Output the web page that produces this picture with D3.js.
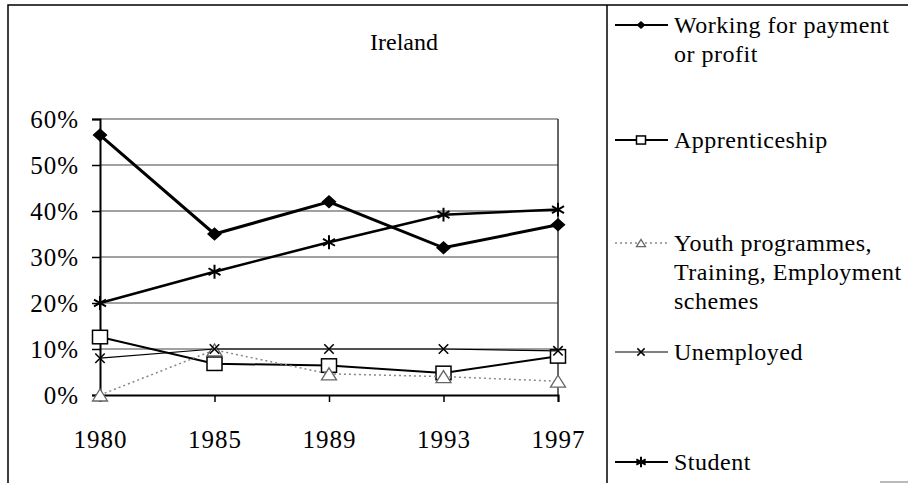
<!DOCTYPE html>
<html>
<head>
<meta charset="utf-8">
<script src="https://cdn.jsdelivr.net/npm/d3@7/dist/d3.min.js"></script>
<style>
  body { margin: 0; background: #fff; }
  text { font-family: "Liberation Serif", "Times New Roman", serif; fill: #000; }
</style>
</head>
<body>
<div id="chart"></div>
<script>
// data (percent)
var years = ['1980', '1985', '1989', '1993', '1997'];
var working = [56.5, 35, 42, 32, 37];
var apprentice = [12.6, 6.8, 6.4, 4.8, 8.4];
var youth = [0, 9.8, 4.6, 4, 3];
var unemployed = [8, 10, 10, 10, 9.6];
var student = [20, 26.8, 33.2, 39.2, 40.3];
var yTicks = [0, 10, 20, 30, 40, 50, 60];
var seriesNames = ['Working for payment\nor profit', 'Apprenticeship',
  'Youth programmes,\nTraining, Employment\nschemes', 'Unemployed', 'Student'];

const width = 908, height = 483;
const margin = {top: 119, right: 350, bottom: 88, left: 100};

const svg = d3.select('#chart').append('svg')
  .attr('width', width).attr('height', height);

var x = d3.scalePoint()
  .domain(years)
  .range([margin.left, width - margin.right]);

var y = d3.scaleLinear()
  .domain([0, 60])
  .range([height - margin.bottom, margin.top]);

// outer frame
svg.append('path').attr('d', 'M8,483 V5 H908').attr('fill', 'none').attr('stroke', '#000').attr('stroke-width', 1.5);
svg.append('line').attr('x1', 607).attr('x2', 607).attr('y1', 5).attr('y2', 483).attr('stroke', '#000').attr('stroke-width', 1.5);
svg.append('line').attr('x1', 880).attr('x2', 908).attr('y1', 482).attr('y2', 482).attr('stroke', '#777');

// gridlines
svg.append('g').selectAll('line').data(yTicks.slice(1)).enter().append('line')
  .attr('x1', margin.left).attr('x2', width - margin.right)
  .attr('y1', d => y(d)).attr('y2', d => y(d))
  .attr('stroke', '#444').attr('stroke-width', 1.2);

// plot frame right side
svg.append('line').attr('x1', width - margin.right).attr('x2', width - margin.right)
  .attr('y1', margin.top).attr('y2', height - margin.bottom).attr('stroke', '#333').attr('stroke-width', 1.5);

// axes
var yAxis = svg.append('g')
  .attr('transform', `translate(${margin.left},0)`)
  .call(d3.axisLeft(y).tickValues(yTicks).tickFormat(d => d + '%').tickSize(8).tickPadding(13));
var xAxis = svg.append('g')
  .attr('transform', `translate(0,${height - margin.bottom})`)
  .call(d3.axisBottom(x).tickSize(7).tickPadding(28));
[yAxis, xAxis].forEach(function(a) {
  a.select('.domain').attr('stroke', '#000').attr('stroke-width', 2);
  a.selectAll('.tick line').attr('stroke', '#000').attr('stroke-width', 1.5);
  a.selectAll('text').attr('font-size', 25).attr('letter-spacing', 1)
    .attr('font-family', '"Liberation Serif", serif');
});

// title
svg.append('text').attr('x', 404).attr('y', 50).attr('text-anchor', 'middle')
  .attr('font-size', 24).text('Ireland');

var styles = [
  {data: working, sw: 3, color: '#000', dash: null, marker: 'diamond'},
  {data: apprentice, sw: 2, color: '#000', dash: null, marker: 'square'},
  {data: youth, sw: 1.5, color: '#888', dash: '2,3', marker: 'triangle'},
  {data: unemployed, sw: 1.2, color: '#000', dash: null, marker: 'cross'},
  {data: student, sw: 2.5, color: '#000', dash: null, marker: 'star'}
];

function drawMarker(g, type, cx, cy, s) {
  var h = s / 2;
  if (type === 'diamond') {
    g.append('path').attr('d', `M${cx - h},${cy} L${cx},${cy - h * 0.9} L${cx + h},${cy} L${cx},${cy + h * 0.9} Z`)
      .attr('fill', '#000');
  } else if (type === 'square') {
    g.append('rect').attr('x', cx - h).attr('y', cy - h * 0.9).attr('width', s).attr('height', s * 0.9)
      .attr('fill', '#fff').attr('stroke', '#000').attr('stroke-width', 1.5);
  } else if (type === 'triangle') {
    g.append('path').attr('d', `M${cx - h},${cy + h * 0.8} L${cx},${cy - h * 0.8} L${cx + h},${cy + h * 0.8} Z`)
      .attr('fill', '#fff').attr('stroke', '#666').attr('stroke-width', 1.3);
  } else if (type === 'cross') {
    g.append('path').attr('d', d3.symbol(d3.symbolX, s * 4)())
      .attr('transform', `translate(${cx},${cy})`).attr('fill', 'none').attr('stroke', '#000').attr('stroke-width', 1.5);
  } else if (type === 'star') {
    g.append('path').attr('d', d3.symbol(d3.symbolAsterisk, s * 9)())
      .attr('transform', `translate(${cx},${cy})`).attr('fill', 'none').attr('stroke', '#000').attr('stroke-width', 2);
  }
}

var line = d3.line().x((d, i) => x(years[i])).y(d => y(d));

styles.forEach(function(st) {
  var g = svg.append('g');
  g.append('path').attr('d', line(st.data)).attr('fill', 'none')
    .attr('stroke', st.color).attr('stroke-width', st.sw)
    .attr('stroke-dasharray', st.dash);
  st.data.forEach(function(v, i) {
    drawMarker(g, st.marker, x(years[i]), y(v), 15);
  });
});

// legend
var legendY = [25, 140, 243, 352, 462];
styles.forEach(function(st, i) {
  var g = svg.append('g');
  var ly = legendY[i];
  g.append('line').attr('x1', 615).attr('x2', 668).attr('y1', ly).attr('y2', ly)
    .attr('stroke', st.color).attr('stroke-width', Math.min(st.sw, 2))
    .attr('stroke-dasharray', st.dash);
  drawMarker(g, st.marker, 641, ly, 9);
  var t = g.append('text').attr('x', 674).attr('y', ly + 8).attr('font-size', 24).attr('letter-spacing', 0.5);
  seriesNames[i].split('\n').forEach(function(s, k) {
    t.append('tspan').attr('x', 674).attr('dy', k === 0 ? 0 : 29).text(s);
  });
});
</script>
</body>
</html>
